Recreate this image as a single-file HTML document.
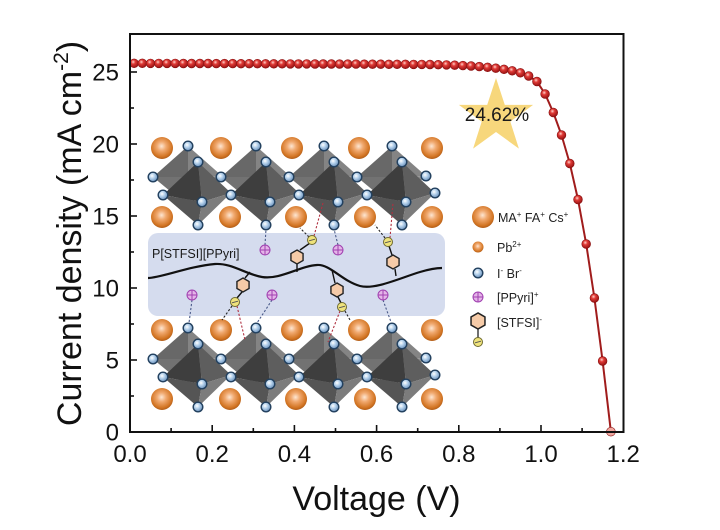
<!DOCTYPE html>
<html><head><meta charset="utf-8"><style>
html,body{margin:0;padding:0;background:#fff;}
svg{display:block;}
text{font-family:"Liberation Sans",Arial,sans-serif;}
</style></head><body>
<svg width="720" height="530" viewBox="0 0 720 530" xmlns="http://www.w3.org/2000/svg">
<defs>
<radialGradient id="og" cx="48%" cy="42%" r="60%">
<stop offset="0" stop-color="#fde6d2"/><stop offset="0.35" stop-color="#f0a86e"/><stop offset="0.8" stop-color="#d27422"/><stop offset="1" stop-color="#aa5816"/>
</radialGradient>
<radialGradient id="bg" cx="40%" cy="38%" r="60%">
<stop offset="0" stop-color="#ffffff"/><stop offset="0.45" stop-color="#b6d2ec"/><stop offset="1" stop-color="#6f95bf"/>
</radialGradient>
<radialGradient id="rg" cx="40%" cy="35%" r="60%">
<stop offset="0" stop-color="#ffd4cc"/><stop offset="0.4" stop-color="#e03a36"/><stop offset="1" stop-color="#a01818"/>
</radialGradient>
<g id="oct">
<polygon points="0,0 -35,31 0,31" fill="#686868"/>
<polygon points="0,0 34,30 0,31" fill="#848484"/>
<polygon points="-35,31 0,60 0,31" fill="#727272"/>
<polygon points="34,30 0,60 0,31" fill="#8c8c8c"/>
<polygon points="10,16 -25,49 14,56" fill="#3e3e3e"/>
<polygon points="10,16 43,47 14,56" fill="#5e5e5e"/>
<polygon points="-25,49 10,79 14,56" fill="#555"/>
<polygon points="43,47 10,79 14,56" fill="#7c7c7c"/>
</g>
<g id="atom"><circle r="4.8" fill="url(#bg)" stroke="#22405e" stroke-width="1.4"/></g>
<g id="oatoms">
<use href="#atom" x="0" y="0"/><use href="#atom" x="10" y="16"/><use href="#atom" x="-35" y="31"/>
<use href="#atom" x="-25" y="49"/><use href="#atom" x="14" y="56"/><use href="#atom" x="10" y="79"/>
</g>
<g id="orange"><circle r="11" fill="url(#og)"/></g>
<g id="plus"><circle r="5" fill="#e4b4e8" stroke="#a040b0" stroke-width="1"/><line x1="-5" y1="0" x2="5" y2="0" stroke="#a040b0" stroke-width="1"/><line x1="0" y1="-5" x2="0" y2="5" stroke="#a040b0" stroke-width="1"/></g>
<g id="minus"><circle r="4.5" fill="#efe37c" stroke="#6e6a30" stroke-width="1"/><line x1="-3" y1="0.8" x2="3" y2="-0.8" stroke="#555" stroke-width="1"/></g>
<g id="hex"><polygon points="0,-7 6.06,-3.5 6.06,3.5 0,7 -6.06,3.5 -6.06,-3.5" fill="#f6cba8" stroke="#222" stroke-width="1.4"/></g>
<g id="layer">
<use href="#orange" x="162" y="148"/><use href="#orange" x="221" y="148"/><use href="#orange" x="292" y="148"/><use href="#orange" x="359" y="148"/><use href="#orange" x="432" y="148"/>
<use href="#orange" x="162" y="217"/><use href="#orange" x="230" y="217"/><use href="#orange" x="296" y="217"/><use href="#orange" x="365" y="217"/><use href="#orange" x="432" y="217"/>
<use href="#oct" x="188" y="146"/><use href="#oct" x="256" y="146"/><use href="#oct" x="324" y="146"/><use href="#oct" x="392" y="146"/>
<use href="#oatoms" x="188" y="146"/><use href="#oatoms" x="256" y="146"/><use href="#oatoms" x="324" y="146"/><use href="#oatoms" x="392" y="146"/>
<use href="#atom" x="426" y="176"/><use href="#atom" x="435" y="193"/>
</g>
</defs>

<!-- inset band -->
<rect x="148" y="233" width="297" height="83" rx="10" fill="#d5dcee"/>
<use href="#layer"/>
<use href="#layer" y="182"/>

<text x="152" y="258" font-size="12.5" fill="#1a1a1a">P[STFSI][PPyri]</text>

<!-- dashed links -->
<g fill="none" stroke-width="1.1" stroke-dasharray="2.2,1.8">
<line x1="265" y1="245" x2="266" y2="229" stroke="#4a5a8a"/>
<line x1="338" y1="245" x2="334" y2="229" stroke="#4a5a8a"/>
<line x1="192" y1="300" x2="189" y2="323" stroke="#4a5a8a"/>
<line x1="272" y1="300" x2="257" y2="323" stroke="#4a5a8a"/>
<line x1="383" y1="300" x2="391" y2="322" stroke="#4a5a8a"/>
<line x1="309" y1="237" x2="300" y2="228" stroke="#222"/>
<line x1="314" y1="236" x2="323" y2="203" stroke="#b03040"/>
<line x1="385" y1="238" x2="375" y2="225" stroke="#222"/>
<line x1="390" y1="238" x2="393" y2="203" stroke="#b03040"/>
<line x1="232" y1="306" x2="222" y2="320" stroke="#222"/>
<line x1="237" y1="306" x2="245" y2="340" stroke="#b03040"/>
<line x1="345" y1="311" x2="350" y2="320" stroke="#222"/>
<line x1="340" y1="311" x2="328" y2="342" stroke="#b03040"/>
</g>

<!-- polymer chain -->
<path d="M148,278 C160,278 190,266 215,264 C232,263 245,274 262,277 C280,280 300,266 317,265 C330,264 342,281 360,286 C375,290 400,278 420,272 C430,269 436,268 442,268" fill="none" stroke="#111" stroke-width="2.2"/>
<g stroke="#111" stroke-width="1.4">
<line x1="297" y1="264" x2="297" y2="272"/><line x1="300" y1="250" x2="310" y2="243"/>
<line x1="395" y1="269" x2="396" y2="276"/><line x1="392" y1="255" x2="389" y2="246"/>
<line x1="250" y1="272" x2="245" y2="278"/><line x1="242" y1="292" x2="237" y2="298"/>
<line x1="332" y1="270" x2="335" y2="283"/><line x1="338" y1="297" x2="341" y2="303"/>
</g>
<use href="#hex" x="297" y="257"/><use href="#hex" x="393" y="262"/><use href="#hex" x="243" y="285"/><use href="#hex" x="337" y="290"/>
<use href="#minus" x="312" y="240"/><use href="#minus" x="388" y="242"/><use href="#minus" x="235" y="302"/><use href="#minus" x="342" y="307"/>
<use href="#plus" x="265" y="250"/><use href="#plus" x="338" y="250"/><use href="#plus" x="192" y="295"/><use href="#plus" x="272" y="295"/><use href="#plus" x="383" y="295"/>

<!-- legend -->
<circle cx="483" cy="217" r="11" fill="url(#og)"/>
<text x="498" y="222" font-size="12.5" fill="#222">MA<tspan font-size="8" dy="-5">+</tspan><tspan dy="5"> FA</tspan><tspan font-size="8" dy="-5">+</tspan><tspan dy="5"> Cs</tspan><tspan font-size="8" dy="-5">+</tspan></text>
<circle cx="478" cy="247" r="5.5" fill="url(#og)"/>
<text x="497" y="252" font-size="12.5" fill="#222">Pb<tspan font-size="8" dy="-5">2+</tspan></text>
<use href="#atom" x="478" y="273"/>
<text x="497" y="278" font-size="12.5" fill="#222">I<tspan font-size="8" dy="-5">-</tspan><tspan dy="5"> Br</tspan><tspan font-size="8" dy="-5">-</tspan></text>
<use href="#plus" x="478" y="297"/>
<text x="497" y="302" font-size="12.5" fill="#222">[PPyri]<tspan font-size="8" dy="-5">+</tspan></text>
<line x1="478" y1="328" x2="478" y2="338" stroke="#222" stroke-width="1.3"/>
<g transform="translate(478,321) scale(1.15)"><polygon points="0,-7 6.06,-3.5 6.06,3.5 0,7 -6.06,3.5 -6.06,-3.5" fill="#f6cba8" stroke="#222" stroke-width="1.3"/></g>
<use href="#minus" x="478" y="342"/>
<text x="497" y="327" font-size="12.5" fill="#222">[STFSI]<tspan font-size="8" dy="-5">-</tspan></text>

<!-- star -->
<polygon points="496,78 504.8,104.9 533.1,104.9 510.3,121.6 518.9,148.6 496,132 473.1,148.6 481.7,121.6 458.9,104.9 487.2,104.9" fill="#f7d77c"/>
<text x="497" y="121" font-size="19" text-anchor="middle" fill="#1a1a1a">24.62%</text>

<!-- curve -->
<polyline fill="none" stroke="#a01c1c" stroke-width="2" points="134.1,63.3 142.3,63.3 150.5,63.4 158.8,63.4 167,63.4 175.2,63.4 183.4,63.5 191.6,63.5 199.9,63.5 208.1,63.5 216.3,63.6 224.5,63.6 232.7,63.6 241,63.7 249.2,63.7 257.4,63.7 265.6,63.8 273.8,63.8 282.1,63.8 290.3,63.9 298.5,63.9 306.7,63.9 315,64 323.2,64 331.4,64 339.6,64.1 347.8,64.1 356,64.1 364.3,64.2 372.5,64.2 380.7,64.2 388.9,64.3 397.1,64.3 405.4,64.3 413.6,64.4 421.8,64.4 430,64.5 438.2,64.7 446.5,64.9 454.7,65.2 462.9,65.6 471.1,66 479.3,66.6 487.6,67.3 495.8,68.2 504,69.3 512.2,70.8 520.4,72.8 528.7,76 536.9,81.5 545.1,94 553.3,112.5 561.5,135 569.8,163.5 578,199.5 586.2,244 594.4,298 602.6,361 610.9,431.7"/>
<g fill="url(#rg)" stroke="#8a1010" stroke-width="0.6">
<circle cx="134.1" cy="63.3" r="4.4"/><circle cx="142.3" cy="63.3" r="4.4"/><circle cx="150.5" cy="63.4" r="4.4"/><circle cx="158.8" cy="63.4" r="4.4"/><circle cx="167" cy="63.4" r="4.4"/><circle cx="175.2" cy="63.4" r="4.4"/><circle cx="183.4" cy="63.5" r="4.4"/><circle cx="191.6" cy="63.5" r="4.4"/><circle cx="199.9" cy="63.5" r="4.4"/><circle cx="208.1" cy="63.5" r="4.4"/>
<circle cx="216.3" cy="63.6" r="4.4"/><circle cx="224.5" cy="63.6" r="4.4"/><circle cx="232.7" cy="63.6" r="4.4"/><circle cx="241" cy="63.7" r="4.4"/><circle cx="249.2" cy="63.7" r="4.4"/><circle cx="257.4" cy="63.7" r="4.4"/><circle cx="265.6" cy="63.8" r="4.4"/><circle cx="273.8" cy="63.8" r="4.4"/><circle cx="282.1" cy="63.8" r="4.4"/><circle cx="290.3" cy="63.9" r="4.4"/>
<circle cx="298.5" cy="63.9" r="4.4"/><circle cx="306.7" cy="63.9" r="4.4"/><circle cx="315" cy="64" r="4.4"/><circle cx="323.2" cy="64" r="4.4"/><circle cx="331.4" cy="64" r="4.4"/><circle cx="339.6" cy="64.1" r="4.4"/><circle cx="347.8" cy="64.1" r="4.4"/><circle cx="356" cy="64.1" r="4.4"/><circle cx="364.3" cy="64.2" r="4.4"/><circle cx="372.5" cy="64.2" r="4.4"/>
<circle cx="380.7" cy="64.2" r="4.4"/><circle cx="388.9" cy="64.3" r="4.4"/><circle cx="397.1" cy="64.3" r="4.4"/><circle cx="405.4" cy="64.3" r="4.4"/><circle cx="413.6" cy="64.4" r="4.4"/><circle cx="421.8" cy="64.4" r="4.4"/><circle cx="430" cy="64.5" r="4.4"/><circle cx="438.2" cy="64.7" r="4.4"/><circle cx="446.5" cy="64.9" r="4.4"/><circle cx="454.7" cy="65.2" r="4.4"/>
<circle cx="462.9" cy="65.6" r="4.4"/><circle cx="471.1" cy="66" r="4.4"/><circle cx="479.3" cy="66.6" r="4.4"/><circle cx="487.6" cy="67.3" r="4.4"/><circle cx="495.8" cy="68.2" r="4.4"/><circle cx="504" cy="69.3" r="4.4"/><circle cx="512.2" cy="70.8" r="4.4"/><circle cx="520.4" cy="72.8" r="4.4"/><circle cx="528.7" cy="76" r="4.4"/><circle cx="536.9" cy="81.5" r="4.4"/>
<circle cx="545.1" cy="94" r="4.4"/><circle cx="553.3" cy="112.5" r="4.4"/><circle cx="561.5" cy="135" r="4.4"/><circle cx="569.8" cy="163.5" r="4.4"/><circle cx="578" cy="199.5" r="4.4"/><circle cx="586.2" cy="244" r="4.4"/><circle cx="594.4" cy="298" r="4.4"/><circle cx="602.6" cy="361" r="4.4"/><circle cx="610.9" cy="431.7" r="4.4" fill="#f0a8a0"/>
</g>

<!-- axes -->
<rect x="130" y="34" width="493.5" height="398" fill="none" stroke="#111" stroke-width="2"/>
<g stroke="#111" stroke-width="1.6">
<line x1="212.2" y1="432" x2="212.2" y2="425"/><line x1="294.4" y1="432" x2="294.4" y2="425"/><line x1="376.6" y1="432" x2="376.6" y2="425"/><line x1="458.8" y1="432" x2="458.8" y2="425"/><line x1="541" y1="432" x2="541" y2="425"/>
<line x1="171.1" y1="432" x2="171.1" y2="428"/><line x1="253.3" y1="432" x2="253.3" y2="428"/><line x1="335.5" y1="432" x2="335.5" y2="428"/><line x1="417.7" y1="432" x2="417.7" y2="428"/><line x1="499.9" y1="432" x2="499.9" y2="428"/><line x1="582.1" y1="432" x2="582.1" y2="428"/>
<line x1="130" y1="360" x2="137" y2="360"/><line x1="130" y1="288" x2="137" y2="288"/><line x1="130" y1="216" x2="137" y2="216"/><line x1="130" y1="144" x2="137" y2="144"/><line x1="130" y1="72" x2="137" y2="72"/>
<line x1="130" y1="396" x2="134" y2="396"/><line x1="130" y1="324" x2="134" y2="324"/><line x1="130" y1="252" x2="134" y2="252"/><line x1="130" y1="180" x2="134" y2="180"/><line x1="130" y1="108" x2="134" y2="108"/>
</g>
<g font-size="24" fill="#111" text-anchor="middle">
<text x="130" y="462">0.0</text><text x="212.2" y="462">0.2</text><text x="294.4" y="462">0.4</text><text x="376.6" y="462">0.6</text><text x="458.8" y="462">0.8</text><text x="541" y="462">1.0</text><text x="623.2" y="462">1.2</text>
</g>
<g font-size="24" fill="#111" text-anchor="end">
<text x="119" y="440.6">0</text><text x="119" y="368.6">5</text><text x="119" y="296.6">10</text><text x="119" y="224.6">15</text><text x="119" y="152.6">20</text><text x="119" y="80.6">25</text>
</g>
<text x="376.5" y="510" font-size="34" text-anchor="middle" fill="#111">Voltage (V)</text>
<text transform="translate(81,233.5) rotate(-90)" x="0" y="0" font-size="34" text-anchor="middle" fill="#111">Current density (mA cm<tspan font-size="21" dy="-13">-2</tspan><tspan dy="13">)</tspan></text>
</svg>
</body></html>
